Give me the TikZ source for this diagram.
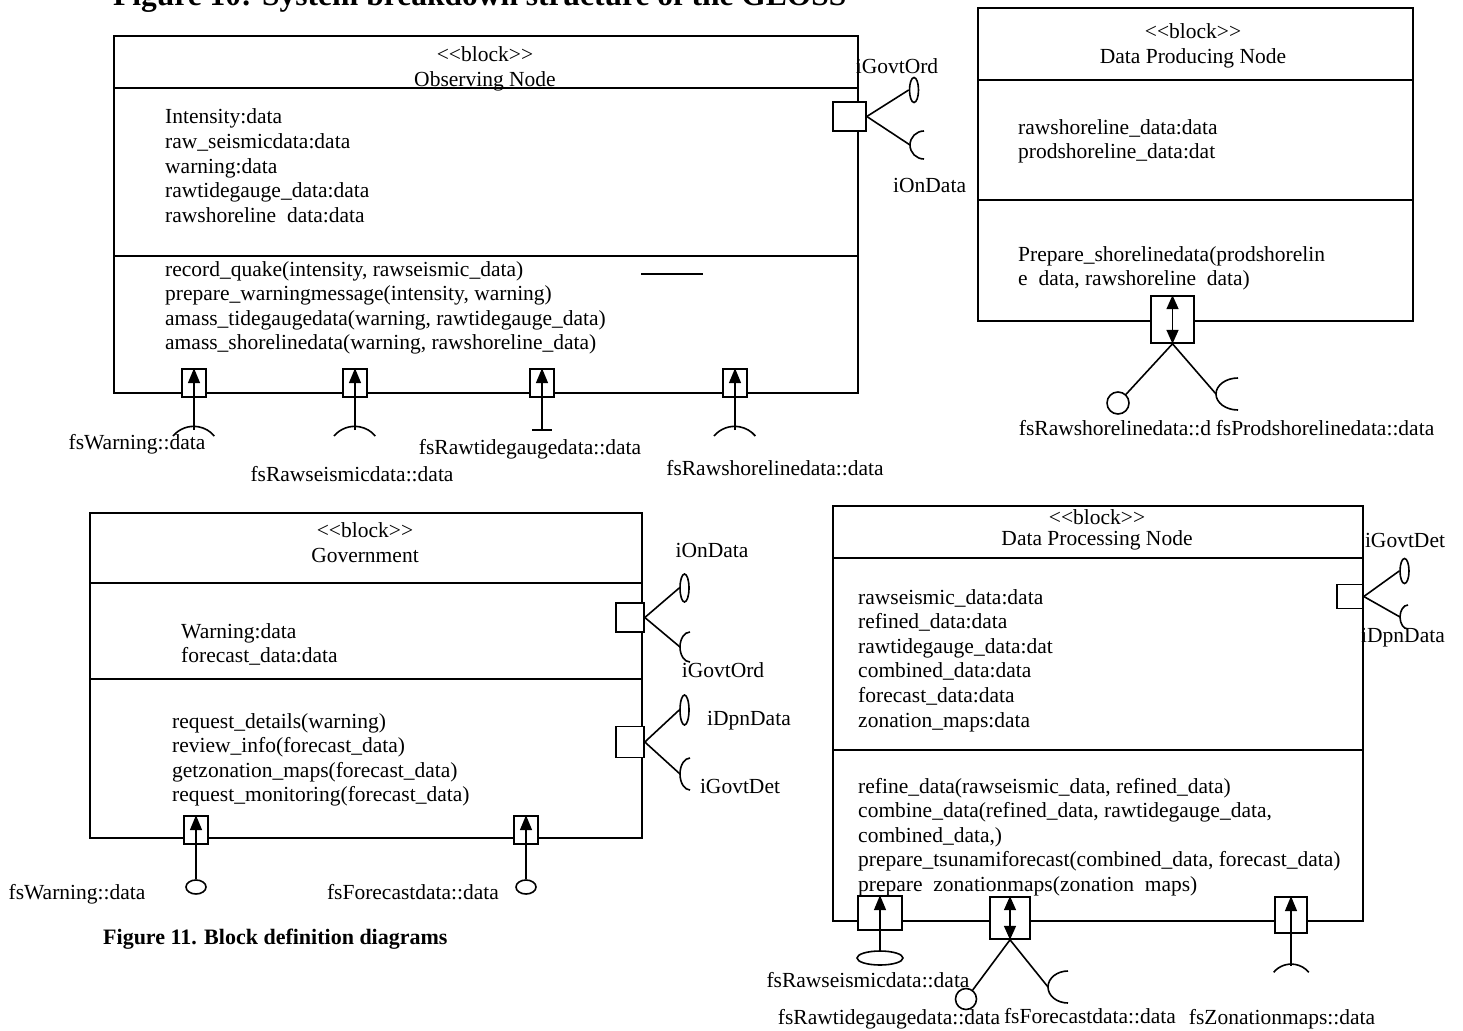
\documentclass[tikz,border=0pt]{standalone}
\usepackage{fontspec}
\setmainfont{Liberation Serif}
\usetikzlibrary{shapes.geometric,arrows.meta}
\newcommand\fs{\fontsize{21.5}{24.6}\selectfont}
\newcommand\Lines[1]{\begin{tabular}[t]{@{}l@{}}#1\end{tabular}}
\tikzset{
  blkn/.style={draw, rectangle, line width=2pt, inner sep=0pt, anchor=north west},
  blk/.style={line width=2pt},
  prt/.style={draw, fill=white, rectangle, line width=1.6pt, inner sep=0pt},
  wire/.style={line width=1.6pt},
  upar/.style={wire, -{Triangle[length=15pt,width=12pt]}},
  dbar/.style={wire, {Triangle[length=14pt,width=12pt]}-{Triangle[length=14pt,width=12pt]}},
  ball/.style={draw, ellipse, inner sep=0pt, line width=1.6pt},
  txt/.style={font=\fs, inner sep=0pt, anchor=base},
  txtl/.style={font=\fs, inner sep=0pt, anchor=base west},
}
\begin{document}
\begin{tikzpicture}[x=1pt,y=-1pt]
\useasboundingbox (0,0) rectangle (1463,1030);

% title (cut at top, as in the reference)
\node[font=\bfseries\fontsize{31.5}{36}\selectfont, inner sep=0pt, anchor=base west] (title) at (113,6) {Figure 10: System breakdown structure of the GLOSS};

% ================= Observing Node =================
\node[blkn, minimum width=744, minimum height=357] (obs) at (113,35) {};
\draw[blk] (113,88) -- (857,88);
\draw[blk] (113,256) -- (857,256);
\node[txt] (obsst) at (485,62) {<{}<block>{}>};
\node[txt] (obsnm) at (485,87) {Observing Node};
\node[txtl] (obsat) at (165,124) {\Lines{Intensity:data\\raw\_seismicdata:data\\warning:data\\rawtidegauge\_data:data\\rawshoreline\ \ data:data}};
\node[txtl] (obsop) at (165,276) {\Lines{record\_quake(intensity, rawseismic\_data)\\prepare\_warningmessage(intensity, warning)\\amass\_tidegaugedata(warning, rawtidegauge\_data)\\amass\_shorelinedata(warning, rawshoreline\_data)}};
\draw[wire] (641,274) -- (703,274);

% right port
\node[prt, minimum width=33, minimum height=29] (obsp) at (849.5,116.5) {};
\node[ball, minimum width=9, minimum height=25] (obsball) at (914,90) {};
\coordinate (obssock) at (910,145);
\draw[wire] (924,131) arc[start angle=270, end angle=90, x radius=14, y radius=14];
\draw[wire] (obsp.east) -- (obsball.west);
\draw[wire] (obsp.east) -- (obssock);
\node[txt] (lobs1) at (897,74) {iGovtOrd};
\node[txtl, fill=white, inner ysep=3pt, text width=88pt, align=left] (lobs2) at (893,192) {iOnData};

% bottom ports
\foreach \n/\x in {1/194,2/355,3/542,4/735}{
  \node[prt, minimum width=24, minimum height=28] (obsb\n) at (\x,383) {};
  \coordinate (obss\n) at (\x,430);
  \draw[upar] (obss\n) -- (obsb\n.north);
}
\foreach \x in {194,355,735}{
  \draw[wire] (\x-21,436) arc[start angle=220, end angle=320, x radius=27, y radius=27];
}
\draw[wire] (532,430) -- (552,430);
\node[txt] (lo1) at (137,449) {fsWarning::data};
\node[txt] (lo2) at (352,481) {fsRawseismicdata::data};
\node[txt] (lo3) at (530,454) {fsRawtidegaugedata::data};
\node[txt] (lo4) at (775,475) {fsRawshorelinedata::data};

% ================= Data Producing Node =================
\node[blkn, minimum width=435, minimum height=313] (dp) at (977,7) {};
\draw[blk] (977,80) -- (1412,80);
\draw[blk] (977,200) -- (1412,200);
\node[txt] (dpst) at (1193,39) {<{}<block>{}>};
\node[txt] (dpnm) at (1193,64) {Data Producing Node};
\node[txtl] (dpat) at (1018,134) {\Lines{rawshoreline\_data:data\\prodshoreline\_data:dat}};
\node[txtl] (dpop) at (1018,261) {\Lines{Prepare\_shorelinedata(prodshorelin\\e\ \ data, rawshoreline\ \ data)}};
\node[prt, minimum width=43, minimum height=47] (dpp) at (1172.5,319.5) {};
\draw[dbar] (dpp.north) -- (dpp.south);
\node[ball, minimum width=22, minimum height=22] (dpball) at (1118,403) {};
\coordinate (dpsock) at (1216,394);
\draw[wire] (1238,378) arc[start angle=270, end angle=90, x radius=22, y radius=16];
\draw[wire] (dpp.south) -- (dpball);
\draw[wire] (dpp.south) -- (dpsock);
\node[txt] (ldp1) at (1115,435) {fsRawshorelinedata::d};
\node[txt] (ldp2) at (1325,435) {fsProdshorelinedata::data};

% ================= Government =================
\node[blkn, minimum width=552, minimum height=325] (gov) at (89,512) {};
\draw[blk] (89,583) -- (641,583);
\draw[blk] (89,679) -- (641,679);
\node[txt] (govst) at (365,537) {<{}<block>{}>};
\node[txt] (govnm) at (365,562) {Government};
\node[txtl] (govat) at (181,638) {\Lines{Warning:data\\forecast\_data:data}};
\node[txtl] (govop) at (172,728) {\Lines{request\_details(warning)\\review\_info(forecast\_data)\\getzonation\_maps(forecast\_data)\\request\_monitoring(forecast\_data)}};
% right ports
\node[prt, minimum width=28, minimum height=29] (govp1) at (630,617.5) {};
\node[ball, minimum width=9, minimum height=28] (govball1) at (684.5,588) {};
\coordinate (govsock1) at (680,647);
\draw[wire] (690,632) arc[start angle=270, end angle=90, x radius=10, y radius=15];
\draw[wire] (govp1.east) -- (govball1.west);
\draw[wire] (govp1.east) -- (govsock1);
\node[prt, minimum width=28, minimum height=31] (govp2) at (630,742) {};
\node[ball, minimum width=9, minimum height=30] (govball2) at (684.5,710) {};
\coordinate (govsock2) at (680,774);
\draw[wire] (690,758) arc[start angle=270, end angle=90, x radius=10, y radius=16];
\draw[wire] (govp2.east) -- (govball2.west);
\draw[wire] (govp2.east) -- (govsock2);
\node[txt] (lg1) at (712,557) {iOnData};
\node[txt] (lg2) at (723,677) {iGovtOrd};
\node[txt] (lg3) at (749,725) {iDpnData};
\node[txt] (lg4) at (740,793) {iGovtDet};
% bottom ports
\node[prt, minimum width=24, minimum height=28] (govb1) at (196,830) {};
\node[prt, minimum width=24, minimum height=28] (govb2) at (526,830) {};
\node[ball, minimum width=20, minimum height=14] (gove1) at (196,887) {};
\node[ball, minimum width=20, minimum height=14] (gove2) at (526,887) {};
\draw[upar] (gove1.north) -- (govb1.north);
\draw[upar] (gove2.north) -- (govb2.north);
\node[txt] (lg5) at (77,899) {fsWarning::data};
\node[txt] (lg6) at (413,899) {fsForecastdata::data};

% ================= Data Processing Node =================
\node[blkn, minimum width=530, minimum height=415] (dpn) at (832,505) {};
\draw[blk] (832,558) -- (1362,558);
\draw[blk] (832,750) -- (1362,750);
\node[txt] (dpnst) at (1097,524) {<{}<block>{}>};
\node[txt] (dpnnm) at (1097,545) {Data Processing Node};
\node[txtl] (dpnat) at (858,604) {\Lines{rawseismic\_data:data\\refined\_data:data\\rawtidegauge\_data:dat\\combined\_data:data\\forecast\_data:data\\zonation\_maps:data}};
\node[txtl] (dpnop) at (858,793) {\Lines{refine\_data(rawseismic\_data, refined\_data)\\combine\_data(refined\_data, rawtidegauge\_data,\\combined\_data,)\\prepare\_tsunamiforecast(combined\_data, forecast\_data)\\prepare\ \ zonationmaps(zonation\ \ maps)}};
% right port
\node[prt, minimum width=26, minimum height=24] (dpnp) at (1350,596.5) {};
\node[ball, minimum width=9, minimum height=25] (dpnball) at (1404.5,571) {};
\coordinate (dpnsock) at (1400,617);
\draw[wire] (1408,605) arc[start angle=270, end angle=90, x radius=8, y radius=12];
\draw[wire] (dpnp.east) -- (dpnball.west);
\draw[wire] (dpnp.east) -- (dpnsock);
\node[txt] (ld1) at (1405,547) {iGovtDet};
\node[txt] (ld2) at (1403,642) {iDpnData};
% bottom ports
\node[prt, minimum width=44, minimum height=34] (dpnb1) at (880,913) {};
\node[prt, minimum width=40, minimum height=42] (dpnb2) at (1010,918) {};
\node[prt, minimum width=32, minimum height=36] (dpnb3) at (1291,915) {};
\node[ball, minimum width=46, minimum height=14] (dpne1) at (880,958) {};
\draw[upar] (dpne1.north) -- (dpnb1.north);
\draw[dbar] (dpnb2.north) -- (dpnb2.south);
\node[ball, minimum width=21, minimum height=21] (dpnc2) at (966,999) {};
\coordinate (dpns2) at (1048,987);
\draw[wire] (1068,971) arc[start angle=270, end angle=90, x radius=20, y radius=16];
\draw[wire] (dpnb2.south) -- (dpnc2);
\draw[wire] (dpnb2.south) -- (dpns2);
\coordinate (dpns3) at (1291,966);
\draw[upar] (dpns3) -- (dpnb3.north);
\draw[wire] (1291-17.4,972.3) arc[start angle=220, end angle=320, x radius=23, y radius=23];
\node[txt] (ld3) at (868,987) {fsRawseismicdata::data};
\node[txt] (ld4) at (889,1024) {fsRawtidegaugedata::data};
\node[txt] (ld5) at (1090,1023) {fsForecastdata::data};
\node[txt] (ld6) at (1282,1024) {fsZonationmaps::data};

% caption
\node[font=\bfseries\fontsize{22}{26}\selectfont, inner sep=0pt, anchor=base west] (cap) at (103,944) {Figure 11. Block definition diagrams};
\end{tikzpicture}
\end{document}
